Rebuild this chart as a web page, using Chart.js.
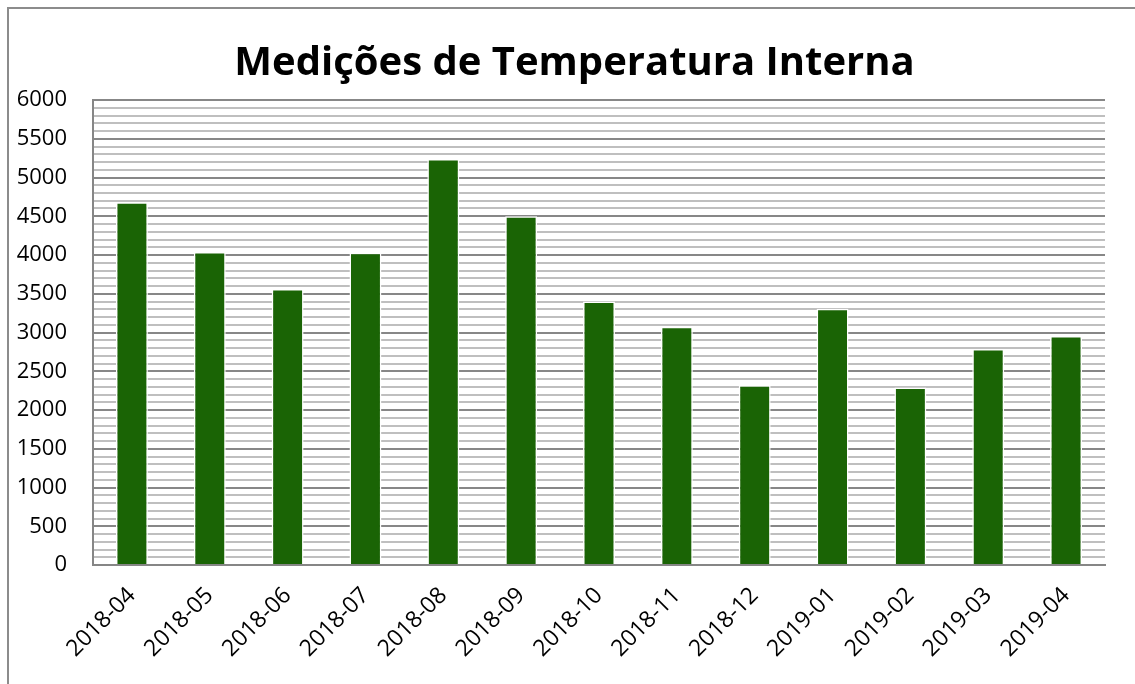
<!DOCTYPE html>
<html>
<head>
<meta charset="utf-8">
<script src="https://cdn.jsdelivr.net/npm/chart.js@4"></script>
<style>
  body { margin: 0; background: #fff; overflow: hidden; }
  #moldura {
    position: absolute; left: 7px; top: 7px;
    width: 1200px; height: 800px;
    border-left: 2px solid #8c8c8c; border-top: 2px solid #8c8c8c;
  }
  #grafico { position: absolute; left: 0; top: 0; }
</style>
</head>
<body>
<div id="moldura"></div>
<canvas id="grafico" width="1135" height="684"></canvas>
<script>
// meses e total de medições por mês
const meses = ["2018-04", "2018-05", "2018-06", "2018-07", "2018-08", "2018-09", "2018-10",
               "2018-11", "2018-12", "2019-01", "2019-02", "2019-03", "2019-04"];
const medicoes = [4680, 4040, 3560, 4030, 5240, 4500, 3400, 3075, 2320, 3305, 2290, 2787, 2955];

// eixo y
const yMin = 0;
const yMax = 6000;
const passoPrincipal = 500;
const passoSecundario = 100;

const titulo = "Medições de Temperatura Interna";
const margemQuadro = 8;

// título centrado no quadro inteiro (não só na área do gráfico)
const tituloCentrado = {
    id: "tituloCentrado",
    afterDraw(chart) {
        const ctx = chart.ctx;
        ctx.save();
        ctx.font = "bold 40px 'Open Sans'";
        ctx.fillStyle = "#000";
        ctx.textAlign = "center";
        ctx.textBaseline = "alphabetic";
        ctx.fillText(titulo, (margemQuadro + chart.width) / 2 + 3, 75);
        ctx.restore();
    }
};

document.addEventListener("DOMContentLoaded", function () {
    const canvas = document.getElementById("grafico");

    new Chart(canvas, {
        type: "bar",
        data: {
            labels: meses,
            datasets: [{
                label: "Medições",
                data: medicoes,
                backgroundColor: "#1a6405",
                borderColor: "#ffffff",
                borderWidth: 1.5,
                categoryPercentage: 1,
                barPercentage: 0.41
            }]
        },
        options: {
            responsive: false,
            animation: false,
            layout: { padding: { left: margemQuadro, right: 30, top: 100, bottom: 0 } },
            plugins: {
                legend: { display: false },
                tooltip: { enabled: false },
                title: { display: false }
            },
            scales: {
                x: {
                    afterFit: function (scale) { scale.height = 119; },
                    grid: { display: false },
                    border: { display: true, color: "#868686", width: 2 },
                    ticks: {
                        color: "#000",
                        font: { family: "'Open Sans'", size: 23 },
                        minRotation: 45,
                        maxRotation: 45,
                        autoSkip: false,
                        padding: 9
                    }
                },
                y: {
                    min: yMin,
                    max: yMax,
                    afterFit: function (scale) { scale.width = 85; },
                    grid: {
                        drawTicks: false,
                        lineWidth: 2,
                        color: function (ctx) {
                            if (ctx.tick && ctx.tick.value % passoPrincipal === 0) return "#878787";
                            return "#bfbfbf";
                        }
                    },
                    border: { display: true, color: "#868686", width: 2 },
                    ticks: {
                        stepSize: passoSecundario,
                        autoSkip: false,
                        color: "#000",
                        font: { family: "'Open Sans'", size: 22 },
                        padding: 26,
                        callback: function (valor) {
                            return valor % passoPrincipal === 0 ? String(valor) : "";
                        }
                    }
                }
            }
        },
        plugins: [tituloCentrado]
    });
});
</script>
</body>
</html>
